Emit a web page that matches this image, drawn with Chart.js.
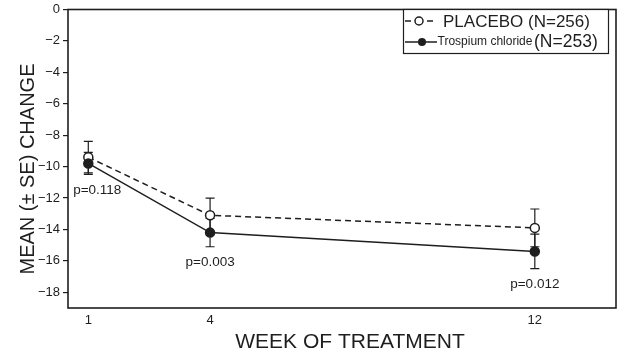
<!DOCTYPE html>
<html><head><meta charset="utf-8">
<script src="https://cdn.jsdelivr.net/npm/chart.js@4/dist/chart.umd.min.js"></script>
<style>html,body{margin:0;padding:0;background:#fff}#wrap{width:624px;height:358px}</style>
</head><body><div id="wrap"><canvas id="c" width="624" height="358"></canvas></div>
<script>
const weeks = [1, 4, 12];
const yTickValues = [0, -2, -4, -6, -8, -10, -12, -14, -16, -18];
const placeboMean = [-9.4, -13.1, -13.9];
const placeboSE = [1.0, 1.1, 1.2];
const trospiumMean = [-9.8, -14.2, -15.4];
const trospiumSE = [0.7, 0.9, 1.1];
const pValues = ['p=0.118', 'p=0.003', 'p=0.012'];
const placeboName = 'PLACEBO (N=256)';
const trospiumName = 'Trospium chloride';
const trospiumN = '(N=253)';
const xTitle = 'WEEK OF TREATMENT';
const yTitle = 'MEAN (\u00B1 SE) CHANGE';

const INK = '#1e1e1e';
const FONT = '"Liberation Sans", Arial, sans-serif';

const errSets = [
  {mean: placeboMean, se: placeboSE},
  {mean: trospiumMean, se: trospiumSE}
];

const framePlugin = {
  id: 'frame',
  beforeDatasetsDraw(chart) {
    const {ctx, scales: {x, y}} = chart;
    ctx.save();
    ctx.strokeStyle = INK;
    ctx.lineWidth = 1.2;
    errSets.forEach(s => {
      weeks.forEach((w, i) => {
        const px = x.getPixelForValue(w);
        const yt = y.getPixelForValue(s.mean[i] + s.se[i]);
        const yb = y.getPixelForValue(s.mean[i] - s.se[i]);
        ctx.beginPath();
        ctx.moveTo(px, yt); ctx.lineTo(px, yb);
        ctx.moveTo(px - 4.5, yt); ctx.lineTo(px + 4.5, yt);
        ctx.moveTo(px - 4.5, yb); ctx.lineTo(px + 4.5, yb);
        ctx.stroke();
      });
    });
    ctx.restore();
  },
  afterDraw(chart) {
    const {ctx, chartArea: a, scales: {x, y}} = chart;
    ctx.save();
    // frame
    ctx.strokeStyle = INK;
    ctx.lineWidth = 1.6;
    ctx.strokeRect(a.left, a.top, a.right - a.left, a.bottom - a.top);
    // axis titles
    ctx.fillStyle = INK;
    ctx.textAlign = 'center';
    ctx.textBaseline = 'middle';
    ctx.font = '21px ' + FONT;
    ctx.fillText(xTitle, 350, 342);
    ctx.save();
    ctx.translate(28, 169);
    ctx.rotate(-Math.PI / 2);
    ctx.font = '20px ' + FONT;
    ctx.fillText(yTitle, 0, 0);
    ctx.restore();
    // p-values
    ctx.font = '13.5px ' + FONT;
    weeks.forEach((w, i) => {
      const px = x.getPixelForValue(w) + (i === 0 ? 9 : 0);
      const py = y.getPixelForValue(trospiumMean[i] - trospiumSE[i]) + 16;
      ctx.fillText(pValues[i], px, py);
    });
    // legend
    const bx = 403.5, by = 9.5, bw = 205, bh = 44;
    ctx.fillStyle = '#fff';
    ctx.fillRect(bx, by, bw, bh);
    ctx.strokeStyle = INK;
    ctx.lineWidth = 1.2;
    ctx.strokeRect(bx, by, bw, bh);
    const r1 = 21, r2 = 42;
    ctx.lineWidth = 1.5;
    ctx.beginPath();
    ctx.moveTo(405, r1); ctx.lineTo(411, r1);
    ctx.moveTo(427, r1); ctx.lineTo(433, r1);
    ctx.stroke();
    ctx.beginPath(); ctx.arc(419, r1, 4, 0, Math.PI * 2);
    ctx.fillStyle = '#fff'; ctx.fill(); ctx.stroke();
    ctx.beginPath(); ctx.moveTo(405, r2); ctx.lineTo(437, r2); ctx.stroke();
    ctx.beginPath(); ctx.arc(422, r2, 4, 0, Math.PI * 2);
    ctx.fillStyle = INK; ctx.fill();
    ctx.textAlign = 'left';
    ctx.font = '17px ' + FONT;
    ctx.fillText(placeboName, 443, r1 + 1);
    ctx.font = '12px ' + FONT;
    ctx.fillText(trospiumName, 437.5, r2);
    ctx.font = '17.5px ' + FONT;
    ctx.fillText(trospiumN, 534, r2 + 0.5);
    ctx.restore();
  }
};

const toXY = arr => weeks.map((w, i) => ({x: w, y: arr[i]}));

new Chart(document.getElementById('c'), {
  type: 'line',
  data: {
    datasets: [
      {
        label: placeboName,
        data: toXY(placeboMean),
        borderColor: INK, borderWidth: 1.5, borderDash: [6, 4],
        pointRadius: 4.5, pointBorderWidth: 1.5,
        pointBackgroundColor: '#fff', pointBorderColor: INK,
        fill: false, tension: 0, order: 1
      },
      {
        label: trospiumName + ' ' + trospiumN,
        data: toXY(trospiumMean),
        borderColor: INK, borderWidth: 1.5,
        pointRadius: 4.5, pointBorderWidth: 1.5,
        pointBackgroundColor: INK, pointBorderColor: INK,
        fill: false, tension: 0, order: 0
      }
    ]
  },
  options: {
    responsive: false,
    animation: false,
    layout: {padding: {top: 7, right: 8, left: 0, bottom: 0}},
    plugins: {legend: {display: false}, tooltip: {enabled: false}},
    scales: {
      x: {
        type: 'linear', min: 0.5, max: 14,
        afterBuildTicks: s => { s.ticks = weeks.map(v => ({value: v})); },
        afterFit: s => { s.height = 50; },
        grid: {display: false, drawTicks: false},
        border: {display: false},
        ticks: {color: INK, font: {family: FONT, size: 13, lineHeight: 1}, padding: 6, maxRotation: 0,
                callback: v => String(v)}
      },
      y: {
        type: 'linear', min: -19, max: 0,
        afterBuildTicks: s => { s.ticks = yTickValues.map(v => ({value: v})); },
        afterFit: s => { s.width = 68; },
        grid: {drawOnChartArea: false, drawTicks: true, tickLength: 5, color: INK, lineWidth: 1.2},
        border: {display: false},
        ticks: {color: INK, font: {family: FONT, size: 13, lineHeight: 1}, padding: 3,
                callback: v => (v < 0 ? '\u2212' + Math.abs(v) : String(v))}
      }
    }
  },
  plugins: [framePlugin]
});
</script>
</body></html>
